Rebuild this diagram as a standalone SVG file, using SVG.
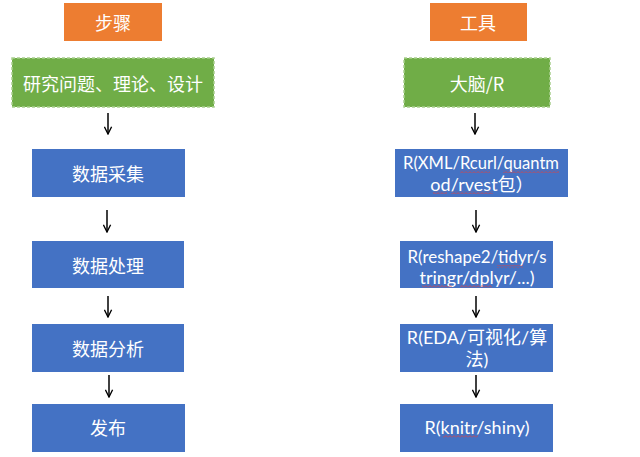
<svg xmlns="http://www.w3.org/2000/svg" width="640" height="457" viewBox="0 0 640 457">
<defs>
<style>
.orange{fill:#ED7D31;}
.green{fill:#70AD47;stroke:#A9CF8F;stroke-width:1.5;stroke-dasharray:3 2;}
.blue{fill:#4472C4;}
text{font-family:"Noto Sans CJK SC","Noto Sans",sans-serif;font-size:18px;fill:#FFFFFF;text-anchor:middle;dominant-baseline:central;}
.lat{font-family:Lato,"Noto Sans CJK SC",sans-serif;font-size:18px;}
.arr{stroke:#000;stroke-width:1.5;fill:none;}
.sq{fill:url(#wave);}
</style>
<pattern id="wave" width="4" height="3" patternUnits="userSpaceOnUse">
<path d="M0,2.5 L2,0.5 L4,2.5" stroke="#E04040" stroke-width="0.8" fill="none"/>
</pattern>
<marker id="ah" viewBox="0 0 10 10" refX="9" refY="5" markerWidth="9" markerHeight="9" orient="auto" markerUnits="userSpaceOnUse">
<path d="M1,1 L9,5 L1,9" stroke="#000" stroke-width="1.5" fill="none"/>
</marker>
</defs>
<rect width="640" height="457" fill="#FFFFFF"/>
<g id="steps-header"><rect class="orange" x="64" y="3" width="98" height="38"/><text x="113" y="22">步骤</text></g>
<g id="tools-header"><rect class="orange" x="430" y="3" width="97" height="38"/><text x="478" y="22">工具</text></g>
<g id="step-research"><rect class="green" x="12" y="58" width="202" height="49"/><text x="113" y="83">研究问题、理论、设计</text></g>
<g id="tool-brain"><rect class="green" x="404" y="58" width="146" height="49"/><text x="477" y="83">大脑/R</text></g>
<g id="step-collect"><rect class="blue" x="32" y="149" width="153" height="48"/><text x="108" y="173">数据采集</text></g>
<g id="step-process"><rect class="blue" x="32" y="241" width="152" height="47"/><text x="108" y="265">数据处理</text></g>
<g id="step-analyze"><rect class="blue" x="32" y="324" width="152" height="48"/><text x="108" y="348">数据分析</text></g>
<g id="step-publish"><rect class="blue" x="32" y="404" width="153" height="48"/><text x="108" y="427">发布</text></g>
<g id="tool-collect"><rect class="blue" x="395" y="149" width="173" height="48"/>
<text class="lat" x="481" y="162" textLength="156" lengthAdjust="spacingAndGlyphs">R(XML/Rcurl/quantm</text>
<text class="lat" x="482" y="184">od/rvest包）</text>
<rect class="sq" x="460" y="170" width="30" height="3"/><rect class="sq" x="503" y="170" width="56" height="3"/>
<rect class="sq" x="433" y="191" width="14" height="3"/><rect class="sq" x="451" y="191" width="42" height="3"/></g>
<g id="tool-process"><rect class="blue" x="400" y="241" width="153" height="47"/>
<text class="lat" x="477" y="256" textLength="139" lengthAdjust="spacingAndGlyphs">R(reshape2/tidyr/s</text>
<text class="lat" x="477" y="277">tringr/dplyr/...)</text>
<rect class="sq" x="497" y="265" width="26" height="3"/>
<rect class="sq" x="422" y="285" width="30" height="3"/><rect class="sq" x="460" y="285" width="32" height="3"/></g>
<g id="tool-analyze"><rect class="blue" x="400" y="324" width="153" height="48"/><text class="lat" x="477" y="337">R(EDA/可视化/算</text><text class="lat" x="477" y="359">法)</text></g>
<g id="tool-publish"><rect class="blue" x="400" y="404" width="153" height="48"/><text class="lat" x="477" y="427">R(knitr/shiny)</text>
<rect class="sq" x="443" y="435" width="35" height="3"/></g>
<g id="connectors">
<line class="arr" x1="108" y1="113" x2="108" y2="134" marker-end="url(#ah)"/>
<line class="arr" x1="107" y1="210" x2="107" y2="232" marker-end="url(#ah)"/>
<line class="arr" x1="108" y1="296" x2="108" y2="317" marker-end="url(#ah)"/>
<line class="arr" x1="109" y1="375" x2="109" y2="397" marker-end="url(#ah)"/>
<line class="arr" x1="475" y1="113" x2="475" y2="134" marker-end="url(#ah)"/>
<line class="arr" x1="476" y1="210" x2="476" y2="232" marker-end="url(#ah)"/>
<line class="arr" x1="476" y1="296" x2="476" y2="317" marker-end="url(#ah)"/>
<line class="arr" x1="476" y1="375" x2="476" y2="397" marker-end="url(#ah)"/>
</g>
</svg>
